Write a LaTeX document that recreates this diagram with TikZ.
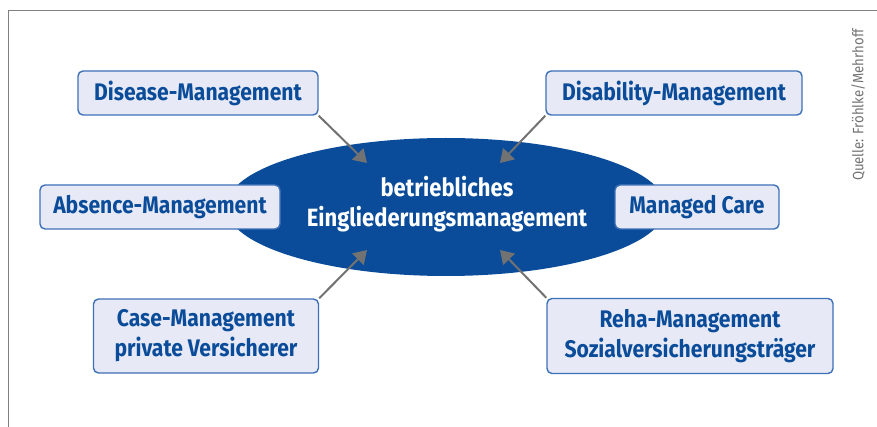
\documentclass[tikz,border=0pt]{standalone}
\usepackage{fontspec}
\setmainfont{Fira Sans}[FakeStretch=0.88]
\usepackage{tikz}
\usetikzlibrary{arrows.meta,calc,shapes.geometric}
\definecolor{bemblue}{HTML}{0A4C99}
\definecolor{bemframe}{HTML}{3E70B8}
\definecolor{bemfill}{HTML}{E7EAF6}
\definecolor{bemgrey}{HTML}{727272}
\tikzset{
  mgmtbox/.style={draw=bemframe, line width=1.4pt, fill=bemfill, rounded corners=5pt,
    text=bemblue, font=\fontsize{24}{30}\selectfont\bfseries, align=center,
    inner sep=0pt, minimum height=44pt},
  zielpfeil/.style={draw=bemgrey, line width=2pt, -{Triangle[length=13pt,width=16pt]}},
}
\begin{document}
\begin{tikzpicture}[x=1pt,y=-1pt]
\useasboundingbox (0,0) rectangle (877,427);
% Rahmen oben und links
\draw[bemgrey!90, line width=1pt] (8,427) -- (8,11) -- (877,11);
\node[rotate=90, text=bemgrey, font=\fontsize{15}{17}\selectfont] (quelle) at (858,105) {Quelle: Fröhlke/Mehrhoff};

% Mitte
\node[ellipse, fill=bemblue, minimum width=440pt, minimum height=138pt, inner sep=0pt] (bem) at (446,207) {};
\node[text=white, font=\fontsize{25}{30}\selectfont\bfseries, align=center] (bemtext) at (447,204)
  {betriebliches\\Eingliederungsmanagement};

% Kaesten
\node[mgmtbox, minimum width=240pt] (disease) at (198,93) {Disease-Management};
\node[mgmtbox, minimum width=256pt] (disability) at (674,93) {Disability-Management};
\node[mgmtbox, minimum width=240pt] (absence) at (160,207) {Absence-Management};
\node[mgmtbox, minimum width=164pt] (managed) at (697,207) {Managed Care};
\node[mgmtbox, minimum width=225pt, minimum height=74pt] (case) at (206,336) {Case-Management\\private Versicherer};
\node[mgmtbox, minimum width=286pt, minimum height=75pt] (reha) at (690,336) {Reha-Management\\Sozialversicherungsträger};

% Pfeilspitzen
\coordinate (spitzeNW) at (367,163);
\coordinate (spitzeNO) at (500,163);
\coordinate (spitzeSW) at (367,250);
\coordinate (spitzeSO) at (500,250);

\draw[zielpfeil] (disease.south east) -- (spitzeNW);
\draw[zielpfeil] (disability.south west) -- (spitzeNO);
\draw[zielpfeil] (case.north east) -- (spitzeSW);
\draw[zielpfeil] (reha.north west) -- (spitzeSO);
\end{tikzpicture}
\end{document}
